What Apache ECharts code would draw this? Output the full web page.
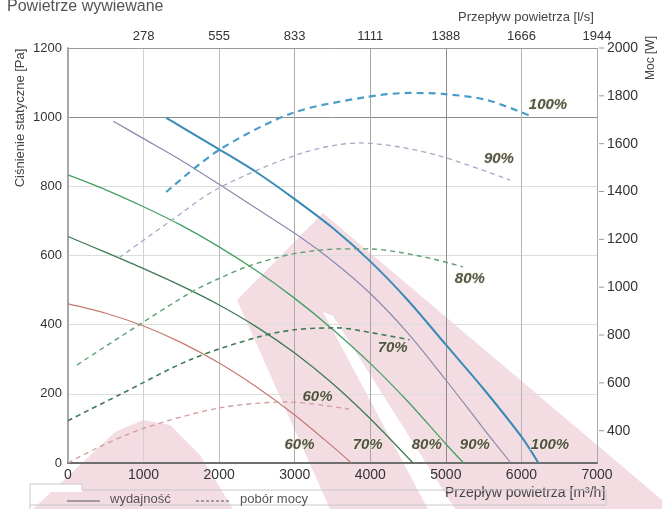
<!DOCTYPE html>
<html><head><meta charset="utf-8">
<script src="https://cdn.jsdelivr.net/npm/echarts@6/dist/echarts.min.js"></script>
<style>html,body{margin:0;padding:0;background:#fff}#c{width:662px;height:509px}</style>
</head><body><div id="c"></div>
<script>
// ---------- data ----------
const speedNames = ['60%', '70%', '80%', '90%', '100%'];
const flowLsLabels = ['278', '555', '833', '1111', '1388', '1666', '1944']; // top axis, l/s
const powerTicks = [400, 600, 800, 1000, 1200, 1400, 1600, 1800, 2000];

// static pressure [Pa] vs airflow [m3/h] (solid)
const pressure60 = [[0, 460], [500, 433], [1000, 396], [1500, 348], [2000, 289], [2500, 219], [3000, 139], [3500, 48], [3750, 0]];
const pressure70 = [[0, 655], [500, 609], [1000, 562], [1500, 512], [2000, 457], [2500, 393], [3000, 318], [3500, 230], [4000, 128], [4565, 0]];
const pressure80 = [[0, 833], [500, 790], [1000, 741], [1500, 687], [2000, 625], [2500, 555], [3000, 476], [3500, 387], [4000, 288], [4500, 177], [5000, 55], [5235, 0]];
const pressure90 = [[600, 988], [1000, 938], [1500, 875], [2000, 806], [2500, 735], [3000, 664], [3500, 584], [4000, 490], [4500, 375], [5000, 240], [5500, 99], [5860, 0]];
const pressure100 = [[1300, 998], [1500, 972], [2000, 907], [2500, 840], [3000, 763], [3500, 680], [4000, 583], [4500, 470], [5000, 342], [5500, 214], [6000, 76], [6225, 0]];

// power consumption [W] vs airflow [m3/h] (dashed)
const power60 = [[0, 265], [400, 330], [1000, 410], [2000, 495], [2900, 520], [3720, 490]];
const power70 = [[0, 442], [680, 550], [1640, 700], [2530, 793], [3000, 822], [3560, 830], [4030, 809], [4520, 780]];
const power80 = [[120, 675], [980, 851], [1640, 981], [1960, 1031], [2360, 1085], [2760, 1123], [3060, 1144], [3600, 1160], [4000, 1160], [4400, 1145], [4830, 1118], [5225, 1085]];
const power90 = [[676, 1123], [1340, 1273], [2000, 1415], [3100, 1561], [3860, 1603], [4390, 1586], [4960, 1545], [5850, 1448]];
const power100 = [[1300, 1398], [2000, 1574], [2970, 1728], [3950, 1795], [4520, 1812], [4960, 1808], [5540, 1783], [6150, 1712]];

// ---------- styling / layout ----------
const FONT = 'Liberation Sans, Arial, sans-serif';
const solidColors = ['#c47a70', '#3d7a52', '#45a062', '#8a8aac', '#3a8ab8'];
const dashColors = ['#d49c9c', '#3f7c55', '#5aa072', '#a4aac6', '#4a9cc8'];
const solidWidths = [1.2, 1.3, 1.3, 1.2, 2];
const dashWidths = [1.3, 1.6, 1.4, 1.3, 2.2];
const pressureSets = [pressure60, pressure70, pressure80, pressure90, pressure100];
const powerSets = [power60, power70, power80, power90, power100];
// label anchors (data space) for the percent annotations
const pressLabelAt = [[3063, 52], [3965, 52], [4747, 52], [5384, 52], [6378, 52]];
const powerLabelAt = [[3302, 542], [4296, 747], [5317, 1035], [5702, 1536], [6352, 1762]];

const series = [];
pressureSets.forEach((d, i) => {
  series.push({
    type: 'line', name: 'p' + speedNames[i], data: d, xAxisIndex: 0, yAxisIndex: 0,
    smooth: 0.3, showSymbol: false, silent: true,
    lineStyle: { color: solidColors[i], width: solidWidths[i] }, z: 3
  });
});
powerSets.forEach((d, i) => {
  series.push({
    type: 'line', name: 'w' + speedNames[i], data: d, xAxisIndex: 0, yAxisIndex: 1,
    smooth: 0.3, showSymbol: false, silent: true,
    lineStyle: { color: dashColors[i], width: dashWidths[i], type: i === 4 ? [7, 5] : [5, 4] }, z: 3
  });
});
const pctLabel = {
  show: true, position: 'inside', formatter: p => p.name,
  fontFamily: FONT, fontSize: 15, fontWeight: 'bold', fontStyle: 'italic', color: '#2a2a2a',
  textBorderColor: 'rgba(240,240,205,0.9)', textBorderWidth: 1.5
};
series.push({
  type: 'scatter', xAxisIndex: 0, yAxisIndex: 0, symbolSize: 1, itemStyle: { color: 'rgba(0,0,0,0)' }, silent: true,
  data: speedNames.map((n, i) => ({ name: n, value: pressLabelAt[i] })), label: pctLabel, z: 5
});
series.push({
  type: 'scatter', xAxisIndex: 0, yAxisIndex: 1, symbolSize: 1, itemStyle: { color: 'rgba(0,0,0,0)' }, silent: true,
  data: speedNames.map((n, i) => ({ name: n, value: powerLabelAt[i] })), label: pctLabel, z: 5
});

const pink = '#f3dde3';
const graphic = [
  // watermark
  { type: 'polygon', z: -10, silent: true, shape: { points: [[237, 300], [323, 213], [662, 500], [662, 509], [330, 509]] }, style: { fill: pink } },
  { type: 'polygon', z: -9, silent: true, shape: { points: [[323, 312], [333, 316], [455, 509], [428, 509]] }, style: { fill: '#fff' } },
  { type: 'polygon', z: -10, silent: true, shape: { points: [[33, 509], [80, 465], [115, 432], [143, 420], [170, 425], [200, 455], [233, 509]] }, style: { fill: pink } },
  // title & axis names
  { type: 'text', left: 7, top: -1, style: { text: 'Powietrze wywiewane', font: '16px ' + FONT, fill: '#555' } },
  { type: 'text', x: 458, y: 17, style: { text: 'Przepływ powietrza [l/s]', font: '13px ' + FONT, fill: '#444', verticalAlign: 'middle' } },
  { type: 'text', x: 20, y: 118, rotation: Math.PI / 2, style: { text: 'Ciśnienie statyczne [Pa]', font: '13px ' + FONT, fill: '#444', align: 'center', verticalAlign: 'middle' } },
  { type: 'text', x: 651, y: 58, rotation: Math.PI / 2, style: { text: 'Moc [W]', font: '12px ' + FONT, fill: '#444', align: 'center', verticalAlign: 'middle' } },
  { type: 'text', x: 445, y: 493, style: { text: 'Przepływ powietrza [m³/h]', font: '14px ' + FONT, fill: '#444', verticalAlign: 'middle' } },
  // legend box
  { type: 'rect', z: -8, shape: { x: 30, y: 484, width: 52, height: 8 }, style: { fill: '#fff' } },
  { type: 'polyline', shape: { points: [[30, 509], [30, 484], [82, 484], [82, 490], [606, 490], [606, 505], [30, 505]] }, style: { stroke: '#c8c8c8', lineWidth: 1, fill: null } },
  { type: 'line', shape: { x1: 67, y1: 501, x2: 100, y2: 501 }, style: { stroke: '#555', lineWidth: 1 } },
  { type: 'text', x: 110, y: 499, style: { text: 'wydajność', font: '13px ' + FONT, fill: '#555', verticalAlign: 'middle' } },
  { type: 'line', shape: { x1: 196, y1: 501, x2: 230, y2: 501 }, style: { stroke: '#555', lineWidth: 1, lineDash: [3, 2] } },
  { type: 'text', x: 240, y: 499, style: { text: 'pobór mocy', font: '13px ' + FONT, fill: '#555', verticalAlign: 'middle' } }
];

const chart = echarts.init(document.getElementById('c'), null, { renderer: 'canvas' });
chart.setOption({
  animation: false,
  backgroundColor: '#fff',
  grid: { left: 68, right: 65, top: 48, bottom: 46 },
  xAxis: [
    {
      type: 'value', position: 'bottom', min: 0, max: 7000, interval: 1000,
      axisLine: { lineStyle: { color: '#6f6f6f', width: 2 } },
      axisTick: { show: false },
      axisLabel: { margin: 5, fontFamily: FONT, fontSize: 14, color: '#333', formatter: v => String(v) },
      splitLine: { show: true, lineStyle: { width: 1, color: ['#ccc', '#d2d2d2', '#bdbdbd', '#ababab', '#a8a8a8', '#8c8c8c', '#b4b4b4', '#aaa'] } }
    },
    {
      type: 'value', position: 'top', min: 0, max: 7000, interval: 1000,
      axisLine: { show: true, lineStyle: { color: '#999', width: 1 } },
      axisTick: { show: false },
      axisLabel: { margin: 5, fontFamily: FONT, fontSize: 13, color: '#333', formatter: v => v === 0 ? '' : flowLsLabels[Math.round(v / 1000) - 1] },
      splitLine: { show: false }
    }
  ],
  yAxis: [
    {
      type: 'value', position: 'left', min: 0, max: 1200, interval: 200,
      axisLine: { show: true, lineStyle: { color: '#888', width: 1.5 } },
      axisTick: { show: false },
      axisLabel: { margin: 6, fontFamily: FONT, fontSize: 13, color: '#333', formatter: v => String(v) },
      splitLine: { show: true, lineStyle: { width: 1, color: ['#ddd', '#ddd', '#ddd', '#ddd', '#ddd', '#8c8c8c', '#ddd'] } }
    },
    {
      type: 'value', position: 'right', min: 265, max: 2000,
      axisLine: { show: true, lineStyle: { color: '#aaa', width: 1 } },
      axisTick: { show: false },
      axisLabel: { customValues: powerTicks, margin: 10, fontFamily: FONT, fontSize: 14, color: '#333', formatter: v => String(v) },
      splitLine: { show: false }
    }
  ],
  graphic: graphic,
  series: series
});

// right-axis tick marks at the labelled power values, positioned through the axis scale
const tickGraphics = powerTicks.map(v => {
  const p = chart.convertToPixel({ xAxisIndex: 0, yAxisIndex: 1 }, [7000, v]);
  return { type: 'line', silent: true, shape: { x1: p[0] + 2, y1: p[1], x2: p[0] + 7, y2: p[1] }, style: { stroke: '#999', lineWidth: 1 } };
});
chart.setOption({ graphic: graphic.concat(tickGraphics) });
</script></body></html>
